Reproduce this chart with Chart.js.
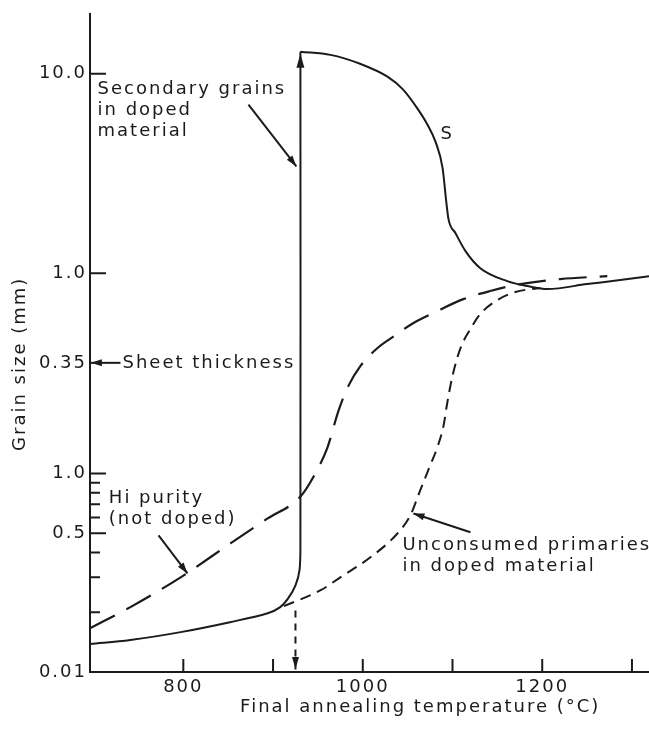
<!DOCTYPE html>
<html>
<head>
<meta charset="utf-8">
<script src="https://cdn.jsdelivr.net/npm/chart.js@4.4.1/dist/chart.umd.min.js"></script>
<style>
  html, body { margin: 0; padding: 0; background: #fff; overflow: hidden; }
  #wrap { width: 649px; height: 731px; position: relative; }
</style>
</head>
<body>
<div id="wrap"><canvas id="grainChart"></canvas></div>
<script>
// temperature axis (°C)
const xTicks = [800, 900, 1000, 1100, 1200, 1300];
const xTickLabels = ['800', '', '1000', '', '1200', ''];

// grain size axis: two log sections stacked, values are decades from the axis origin
const yTicks = [0, 0.301, 0.477, 0.602, 0.699, 0.778, 0.845, 0.903, 0.954, 1.0, 1.558, 2.01, 3.015];
const yTickLabels = ['0.01', '', '', '', '0.5', '', '', '', '', '1.0', '0.35', '1.0', '10.0'];

// doped material: primaries, then the jump to secondary grains
const dopedTemp = [696, 741, 797, 852, 894, 908, 917, 925, 929.5, 930.5, 930.5];
const dopedSize = [0.141, 0.161, 0.201, 0.251, 0.296, 0.327, 0.372, 0.437, 0.513, 0.663, 3.126];

// secondary grains in doped material (curve S)
const secTemp = [930.5, 964, 997, 1027.5, 1045, 1061, 1072, 1081, 1089, 1093, 1095.6, 1103.4, 1114.5, 1131, 1161, 1183.5, 1206, 1250, 1287, 1319];
const secSize = [3.126, 3.11, 3.065, 3.0, 2.935, 2.839, 2.759, 2.673, 2.538, 2.372, 2.281, 2.211, 2.121, 2.035, 1.97, 1.945, 1.93, 1.955, 1.975, 1.995];

// hi purity (not doped)
const pureTemp = [696, 741, 797, 852.5, 894, 930.5, 947, 960.6, 973, 984, 997.5, 1016.5, 1036.6, 1056.5, 1083, 1112, 1142, 1175.6, 1220, 1272.5];
const pureSize = [0.221, 0.327, 0.477, 0.648, 0.774, 0.884, 1.0, 1.131, 1.317, 1.442, 1.543, 1.633, 1.698, 1.759, 1.819, 1.879, 1.92, 1.955, 1.98, 1.995];

// unconsumed primaries in doped material
const primTemp = [912, 953, 975, 1008.5, 1038.6, 1053, 1064, 1075, 1083, 1090, 1094, 1100, 1109, 1120, 1131, 1148, 1170, 1198];
const primSize = [0.332, 0.412, 0.477, 0.578, 0.698, 0.789, 0.915, 1.04, 1.131, 1.241, 1.352, 1.492, 1.633, 1.729, 1.804, 1.869, 1.915, 1.935];

// onset of secondary recrystallisation
const onsetTemp = [925, 925];
const onsetSize = [0.31, 0];

const ink = '#1b1b1b';
const font = '18px "DejaVu Sans"';

const toPts = (xs, ys) => xs.map((v, i) => ({ x: v, y: ys[i] }));

// labels placed in data units (temperature, decade position)
const notes = [
    { lines: ['Secondary grains', 'in doped', 'material'], x: 704.4, y: 2.935 },
    { lines: ['S'], x: 1086.5, y: 2.709 },
    { lines: ['Sheet thickness'], x: 732.2, y: 1.558 },
    { lines: ['Hi purity', '(not doped)'], x: 717, y: 0.874 },
    { lines: ['Unconsumed primaries', 'in doped material'], x: 1044.2, y: 0.638 }
];
const pointers = [
    { from: [872.6, 2.859], to: [926, 2.548] },
    { from: [730, 1.558], to: [697, 1.558] },
    { from: [772.4, 0.688], to: [804.6, 0.497] },
    { from: [1120, 0.704], to: [1056.5, 0.799] }
];

function head(ctx, x1, y1, x2, y2, len, half) {
    const a = Math.atan2(y2 - y1, x2 - x1);
    const c = Math.cos(a), s = Math.sin(a);
    ctx.beginPath();
    ctx.moveTo(x2, y2);
    ctx.lineTo(x2 - len * c + half * s, y2 - len * s - half * c);
    ctx.lineTo(x2 - len * c - half * s, y2 - len * s + half * c);
    ctx.closePath();
    ctx.fill();
}

const spacing = {
    id: 'spacing',
    beforeDraw(chart) { chart.ctx.letterSpacing = '2px'; }
};

const decor = {
    id: 'decor',
    afterDraw(chart) {
        const { ctx } = chart;
        const xs = chart.scales.x, ys = chart.scales.y;
        const X = v => xs.getPixelForValue(v), Y = v => ys.getPixelForValue(v);
        ctx.save();
        ctx.strokeStyle = ink;
        ctx.fillStyle = ink;
        ctx.lineWidth = 2;
        ctx.setLineDash([]);

        // inward tick marks
        ctx.beginPath();
        yTicks.forEach((v, i) => {
            const lab = yTickLabels[i];
            if (lab === '0.01' || lab === '0.35') return;
            const len = lab ? 16 : 10;
            ctx.moveTo(xs.left, Y(v));
            ctx.lineTo(xs.left + len, Y(v));
        });
        xTicks.forEach(v => {
            ctx.moveTo(X(v), ys.bottom);
            ctx.lineTo(X(v), ys.bottom - 13);
        });
        ctx.stroke();

        // arrow heads on the jump and on the onset marker
        head(ctx, X(930.5), Y(2), X(930.5), Y(3.126) + 2, 14, 4);
        head(ctx, X(925), Y(0.2), X(925), Y(0) - 3, 12, 3.5);

        // pointers
        pointers.forEach(p => {
            const x1 = X(p.from[0]), y1 = Y(p.from[1]);
            const x2 = X(p.to[0]), y2 = Y(p.to[1]);
            ctx.beginPath();
            ctx.moveTo(x1, y1);
            ctx.lineTo(x2, y2);
            ctx.stroke();
            head(ctx, x1, y1, x2, y2, 11, 3.5);
        });

        // notes
        ctx.font = font;
        ctx.letterSpacing = '2px';
        ctx.textAlign = 'left';
        ctx.textBaseline = 'middle';
        notes.forEach(n => {
            n.lines.forEach((t, i) => ctx.fillText(t, X(n.x), Y(n.y) + i * 21));
        });

        // axis titles
        ctx.textAlign = 'center';
        ctx.fillText('Final annealing temperature (°C)', X(1064), ys.bottom + 35);
        ctx.translate(xs.left - 70, Y(1.553));
        ctx.rotate(-Math.PI / 2);
        ctx.fillText('Grain size (mm)', 0, 0);
        ctx.restore();
    }
};

const lineBase = { borderColor: ink, borderWidth: 2, pointRadius: 0, fill: false, tension: 0.35 };

new Chart(document.getElementById('grainChart'), {
    type: 'line',
    data: {
        datasets: [
            { ...lineBase, label: 'Doped material', data: toPts(dopedTemp, dopedSize) },
            { ...lineBase, label: 'Secondary grains', data: toPts(secTemp, secSize), cubicInterpolationMode: 'monotone' },
            { ...lineBase, label: 'Hi purity', data: toPts(pureTemp, pureSize), borderDash: [28, 13], borderWidth: 2.2, cubicInterpolationMode: 'monotone' },
            { ...lineBase, label: 'Unconsumed primaries', data: toPts(primTemp, primSize), borderDash: [11, 7], cubicInterpolationMode: 'monotone' },
            { ...lineBase, label: 'Onset', data: toPts(onsetTemp, onsetSize), borderDash: [7, 6], tension: 0 }
        ]
    },
    options: {
        responsive: true,
        maintainAspectRatio: false,
        animation: false,
        layout: { padding: { top: 12, right: 0, bottom: 0, left: 0 } },
        plugins: {
            legend: { display: false },
            tooltip: { enabled: false }
        },
        scales: {
            x: {
                type: 'linear',
                min: 696,
                max: 1319,
                afterFit: s => { s.height = 59; },
                afterBuildTicks: s => { s.ticks = xTicks.map(v => ({ value: v })); },
                grid: { display: false, drawTicks: false },
                border: { display: true, color: ink, width: 2 },
                ticks: {
                    autoSkip: false,
                    maxRotation: 0,
                    padding: 5,
                    color: ink,
                    font: { family: 'DejaVu Sans', size: 18 },
                    callback: (v, i) => xTickLabels[i]
                }
            },
            y: {
                type: 'linear',
                min: 0,
                max: 3.317,
                afterFit: s => { s.width = 90; },
                afterBuildTicks: s => { s.ticks = yTicks.map(v => ({ value: v })); },
                grid: { display: false, drawTicks: false },
                border: { display: true, color: ink, width: 2 },
                ticks: {
                    autoSkip: false,
                    padding: 3,
                    color: ink,
                    font: { family: 'DejaVu Sans', size: 18 },
                    callback: (v, i) => yTickLabels[i]
                }
            }
        }
    },
    plugins: [spacing, decor]
});
</script>
</body>
</html>
